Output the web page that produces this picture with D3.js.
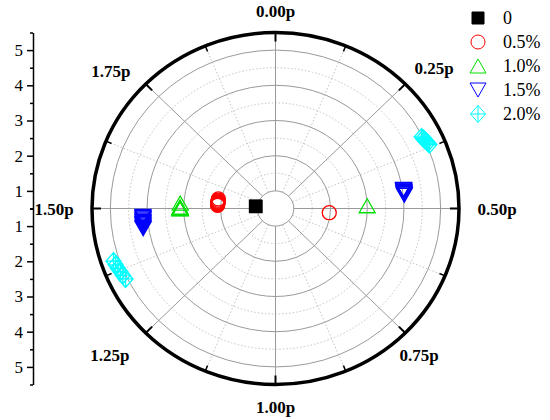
<!DOCTYPE html>
<html><head><meta charset="utf-8">
<script src="https://cdn.jsdelivr.net/npm/d3@7"></script>
<style>body{margin:0;background:#fff}svg{display:block}</style>
</head><body>
<svg id="c" width="550" height="420"></svg>
<script>
// ---- data (theta in units of pi, clockwise from top; r in radial units) ----
const seriesNames = ["0", "0.5%", "1.0%", "1.5%", "2.0%"];
const seriesColors = ["#000000", "#ff0000", "#00e000", "#0000ff", "#00ffff"];
const seriesShapes = ["square", "circle", "triUp", "triDown", "diamond"];
const theta0 = [1.53, 1.535, 1.54];
const r0 = [1.04, 1.04, 1.05];
const theta05 = [0.526, 1.518, 1.521, 1.524, 1.527, 1.53, 1.533, 1.537, 1.542, 1.548, 1.555];
const r05 = [1.97, 2.08, 2.08, 2.08, 2.08, 2.08, 2.08, 2.08, 2.08, 2.08, 2.08];
const theta10 = [0.49, 1.519, 1.505, 1.503, 1.502, 1.501, 1.5, 1.499];
const r10 = [3.0, 3.1, 3.1, 3.1, 3.1, 3.1, 3.1, 3.1];
const theta15 = [0.451, 0.453, 0.455, 0.457, 0.459, 0.461, 0.463, 0.466,
                 1.48, 1.477, 1.474, 1.471, 1.468, 1.465, 1.462, 1.459, 1.456, 1.453, 1.45];
const r15 = [4.03, 4.03, 4.03, 4.03, 4.03, 4.03, 4.03, 4.03,
             4.12, 4.12, 4.12, 4.13, 4.13, 4.13, 4.14, 4.14, 4.14, 4.15, 4.15];
const theta20 = [0.35, 0.354, 0.358, 0.362, 0.366, 0.37, 1.396, 1.388, 1.38, 1.372, 1.364, 1.355];
const r20 = [4.97, 4.99, 5.01, 5.03, 5.05, 5.07, 5.16, 5.14, 5.12, 5.09, 5.07, 5.05];
const seriesTheta = [theta0, theta05, theta10, theta15, theta20];
const seriesR = [r0, r05, r10, r15, r20];
const angleTicks = [0, 0.25, 0.5, 0.75, 1, 1.25, 1.5, 1.75];
const angleLabels = ["0.00p", "0.25p", "0.50p", "0.75p", "1.00p", "1.25p", "1.50p", "1.75p"];
const radialTicks = [1, 2, 3, 4, 5];
const radialDomain = [0.5, 5.5];

// ---- layout ----
const svg = d3.select("#c");
const cx = 275.5, cy = 208.5, RX = 183.5, RY = 176;
const serif = "'Liberation Serif', 'Times New Roman', serif";
const rs = d3.scaleLinear().domain(radialDomain).range([0, 1]);
const pos = (v, t) => {
  const a = t * Math.PI, k = rs(v);
  return [cx + RX * k * Math.sin(a), cy - RY * k * Math.cos(a)];
};

// grid
const g = svg.append("g");
const halfSteps = d3.range(1, 5, 1).map(d => d + 0.5);
const minorAngles = angleTicks.map(d => d + 0.125);
g.selectAll(".gd").data(halfSteps).join("ellipse")
  .attr("cx", cx).attr("cy", cy)
  .attr("rx", d => RX * rs(d)).attr("ry", d => RY * rs(d))
  .attr("fill", "none").attr("stroke", "#c4c4c4").attr("stroke-width", 1)
  .attr("stroke-dasharray", "1.5,2");
g.selectAll(".rm").data(minorAngles).join("line")
  .attr("x1", d => pos(1, d)[0]).attr("y1", d => pos(1, d)[1])
  .attr("x2", d => pos(5.5, d)[0]).attr("y2", d => pos(5.5, d)[1])
  .attr("stroke", "#c4c4c4").attr("stroke-width", 1).attr("stroke-dasharray", "1.5,2");
g.selectAll(".gs").data(radialTicks).join("ellipse")
  .attr("cx", cx).attr("cy", cy)
  .attr("rx", d => RX * rs(d)).attr("ry", d => RY * rs(d))
  .attr("fill", "none").attr("stroke", "#9a9a9a").attr("stroke-width", 1);
g.selectAll(".rl").data(angleTicks).join("line")
  .attr("x1", d => pos(1, d)[0]).attr("y1", d => pos(1, d)[1])
  .attr("x2", d => pos(5.5, d)[0]).attr("y2", d => pos(5.5, d)[1])
  .attr("stroke", "#9a9a9a").attr("stroke-width", 1);

// outer boundary
svg.append("ellipse").attr("cx", cx).attr("cy", cy).attr("rx", RX).attr("ry", RY)
  .attr("fill", "none").attr("stroke", "#000").attr("stroke-width", 3.5);
const tickLine = (t, len, w) => {
  const a = t * Math.PI;
  svg.append("line")
    .attr("x1", cx + RX * Math.sin(a)).attr("y1", cy - RY * Math.cos(a))
    .attr("x2", cx + (RX - len) * Math.sin(a)).attr("y2", cy - (RY - len) * Math.cos(a))
    .attr("stroke", "#000").attr("stroke-width", w);
};
angleTicks.forEach(t => tickLine(t, 9, 2));
minorAngles.forEach(t => tickLine(t, 6, 1.5));
// angular labels (small per-label nudges to match the original placement)
const labelDx = [0, 2, 0, -13, 0, -9, 0, -8];
const labelDy = [0, 0, 0, 6, 0, 6, 0, 3];
svg.selectAll(".al").data(angleTicks).join("text")
  .attr("x", (d, i) => cx + (RX + 38) * Math.sin(d * Math.PI) + labelDx[i])
  .attr("y", (d, i) => cy - (RY + 22) * Math.cos(d * Math.PI) + 6 + labelDy[i])
  .attr("text-anchor", "middle")
  .attr("font-family", serif).attr("font-weight", "bold").attr("font-size", 17)
  .text((d, i) => angleLabels[i]);

// left radial axis (mirrored)
const axX = 33;
const yTop = d3.scaleLinear().domain(radialDomain).range([cy, cy - RY]);
const yBot = d3.scaleLinear().domain(radialDomain).range([cy, cy + RY]);
const minorVals = d3.range(0, 6).map(d => d + 0.5);
[yTop, yBot].forEach(sc => {
  const ax = svg.append("g").attr("transform", `translate(${axX},0)`)
    .call(d3.axisLeft(sc).tickValues(radialTicks).tickFormat(d3.format("d")).tickSize(6).tickSizeOuter(0).tickPadding(4));
  ax.select(".domain").attr("stroke-width", 1.5);
  ax.selectAll(".tick line").attr("stroke-width", 1.5);
  ax.selectAll("text").attr("font-family", serif).attr("font-size", 17);
  const mx = svg.append("g").attr("transform", `translate(${axX},0)`)
    .call(d3.axisLeft(sc).tickValues(minorVals).tickFormat("").tickSize(3).tickSizeOuter(0));
  mx.select(".domain").remove();
  mx.selectAll(".tick line").attr("stroke-width", 1.5);
});

// markers
function markerPath(shape) {
  const p = d3.path();
  if (shape === "square") { p.rect(-6, -6, 12, 12); }
  else if (shape === "circle") { p.arc(0, 0, 7, 0, 2 * Math.PI); p.closePath(); }
  else if (shape === "triUp") { p.moveTo(0, -7); p.lineTo(8, 7); p.lineTo(-8, 7); p.closePath(); }
  else if (shape === "triDown") { p.moveTo(0, 7); p.lineTo(8, -7); p.lineTo(-8, -7); p.closePath(); }
  else if (shape === "diamond") {
    p.moveTo(0, -8.5); p.lineTo(7.5, 0); p.lineTo(0, 8.5); p.lineTo(-7.5, 0); p.closePath();
    p.moveTo(0, -8.5); p.lineTo(0, 8.5); p.moveTo(-7.5, 0); p.lineTo(7.5, 0);
  }
  return p.toString();
}
seriesNames.forEach((name, i) => {
  const pts = seriesTheta[i].map((t, j) => ({ t, r: seriesR[i][j] }));
  const filled = seriesShapes[i] === "square";
  svg.append("g").selectAll("path").data(pts).join("path")
    .attr("transform", d => { const [x, y] = pos(d.r, d.t); return `translate(${x},${y})`; })
    .attr("d", markerPath(seriesShapes[i]))
    .attr("fill", filled ? seriesColors[i] : "none")
    .attr("stroke", seriesColors[i]).attr("stroke-width", 1.3);
});

// legend
const lg = svg.append("g");
seriesNames.forEach((name, i) => {
  const y = 18 + i * 24;
  lg.append("path").attr("transform", `translate(478,${y})`)
    .attr("d", markerPath(seriesShapes[i]))
    .attr("fill", seriesShapes[i] === "square" ? seriesColors[i] : "none")
    .attr("stroke", seriesColors[i]).attr("stroke-width", 1);
  lg.append("text").attr("x", 503).attr("y", y + 6)
    .attr("font-family", serif).attr("font-size", 18).text(name);
});
</script>
</body></html>
